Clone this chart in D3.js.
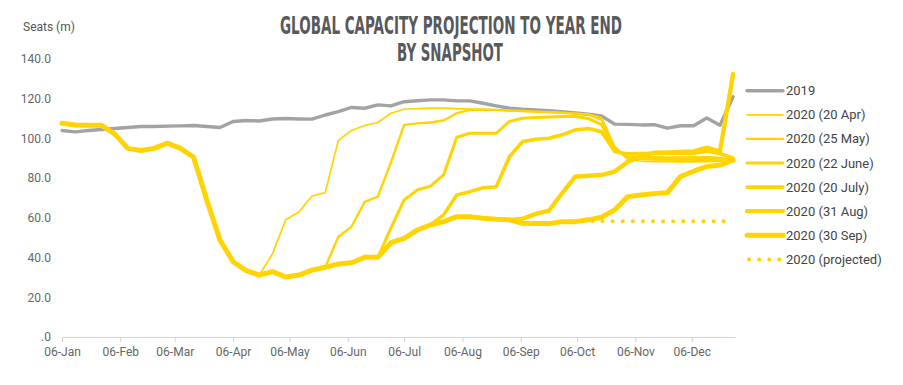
<!DOCTYPE html>
<html>
<head>
<meta charset="utf-8">
<script src="https://cdn.jsdelivr.net/npm/d3@7"></script>
<style>
  body { margin: 0; background: #fff; }
  text { font-family: Roboto, "Noto Sans", sans-serif; }
</style>
</head>
<body>
<script>
// weekly snapshots, one point per week starting Monday 06-Jan
var firstWeek = new Date(2020, 0, 6);
var weeks = d3.range(52).map(function(i) { return d3.timeDay.offset(firstWeek, 7 * i); });

var monthTicks = ["06-Jan", "06-Feb", "06-Mar", "06-Apr", "06-May", "06-Jun",
                  "06-Jul", "06-Aug", "06-Sep", "06-Oct", "06-Nov", "06-Dec"];
var yTicks = [0, 20, 40, 60, 80, 100, 120, 140];

var seats2019 = [104, 103.3, 104, 104.5, 105, 105.5, 106, 106, 106.2, 106.3,
  106.5, 106, 105.5, 108.5, 109, 108.8, 109.8, 110, 109.8, 109.7,
  111.8, 113.5, 115.6, 115.2, 116.9, 116.4, 118.5, 119, 119.4, 119.4,
  118.9, 118.9, 117.7, 116.4, 115.2, 114.7, 114.4, 114, 113.5, 112.8,
  112.2, 111.3, 107.2, 107.1, 106.8, 106.9, 105.2, 106.4, 106.4, 110.3,
  106.6, 121];

// actual 2020 up to the 30 Sep snapshot (week 0..38)
var actual2020 = [107.6, 106.8, 106.6, 106.6, 102.3, 95, 93.9, 95, 97.6, 95,
  90.5, 69, 48.9, 37.9, 33.4, 31.2, 32.9, 30.2, 31.2, 33.7,
  35.1, 36.8, 37.4, 40.1, 40.1, 47.5, 49.7, 53.9, 56.4, 58.1,
  60.6, 60.6, 59.8, 59.3, 59, 57.3, 57.1, 57.1, 58.1];

// forecast part of each snapshot, starting at the snapshot week
var apr20 = [31.2, 42, 59, 63, 71, 72.7, 99, 104, 106.5, 108, 112.7, 114.7, 115,
  115.3, 115.3, 115, 114.8, 114.5, 114.3, 114, 113.7, 113.4, 113.2, 112.9,
  112.6, 112.3, 110.5, 96, 89.5, 88.5, 88.3, 88.3, 88.2, 88.2, 88.3, 88.5, 89];
var may25 = [35.1, 50.5, 55.6, 68, 70.7, 88, 106.8, 107.6, 108, 109, 112.7, 114.4,
  114.6, 114.4, 114.1, 113.8, 113.5, 113.2, 112.9, 112.5, 112, 109.5, 95.5,
  90, 89.5, 89.4, 89.3, 89.2, 89.2, 89.3, 89.3, 89];
var jun22 = [40.1, 55, 69, 74, 76, 81.6, 100.6, 102.6, 102.6, 102.6, 108.6, 110.2,
  110.5, 110.8, 111, 111, 110, 107, 94.5, 90.5, 90.5, 90.4, 90.3, 90.3, 90.4,
  90.5, 90, 89];
var jul20 = [56.4, 61.5, 71.5, 73.2, 75.2, 75.7, 90.8, 98.4, 99.6, 100.1, 101.8,
  104.3, 105, 103.4, 93.4, 92.2, 92.4, 92.5, 92.5, 92.4, 92.6, 93.5, 92.4, 90];
var aug31 = [59, 59.5, 62, 63.6, 72.4, 80.8, 81.2, 81.6, 83.3, 88.3, 91, 92.8, 93,
  93.2, 93.5, 95.4, 93.4, 132.5];
var sep30 = [58.1, 58.1, 59, 60.3, 64, 70.7, 71.5, 72.2, 72.7, 80.8, 83.5, 85.8,
  86.6, 89];
var projected = [58.1, 58.3, 58.3, 58.3, 58.3, 58.3, 58.3, 58.3, 58.3, 58.3, 58.3,
  58.3, 58.3, 58.3];

var yellow = "#ffd400";
var grey = "#a3a3a3";

function fromWeek(start, values) {
  return values.map(function(v, i) { return {date: weeks[start + i], value: v}; });
}

var series = [
  {name: "2019", color: grey, width: 3.4, points: fromWeek(0, seats2019)},
  {name: "2020 (20 Apr)", color: yellow, width: 1.7, points: fromWeek(15, apr20)},
  {name: "2020 (25 May)", color: yellow, width: 2.4, points: fromWeek(20, may25)},
  {name: "2020 (22 June)", color: yellow, width: 3, points: fromWeek(24, jun22)},
  {name: "2020 (20 July)", color: yellow, width: 3.6, points: fromWeek(28, jul20)},
  {name: "2020 (31 Aug)", color: yellow, width: 4.3, points: fromWeek(34, aug31)},
  {name: "2020 (30 Sep)", color: yellow, width: 5,
    points: fromWeek(0, actual2020).concat(fromWeek(39, sep30.slice(1)))},
  {name: "2020 (projected)", color: yellow, width: 4, dotted: true, points: fromWeek(38, projected)}
];

var svg = d3.select("body").append("svg")
    .attr("width", 903)
    .attr("height", 385);

var x = d3.scaleTime()
    .domain([firstWeek, new Date(2020, 11, 29)])
    .range([62, 735]);

var y = d3.scaleLinear()
    .domain([0, 140])
    .range([337, 59]);

// title
svg.append("text")
    .attr("x", 451).attr("y", 34)
    .attr("text-anchor", "middle")
    .attr("textLength", 342).attr("lengthAdjust", "spacingAndGlyphs")
    .style("font-family", "'Liberation Sans Narrow', 'DejaVu Sans Condensed', sans-serif")
    .style("font-weight", "bold").style("font-size", "25px")
    .style("fill", "#58595b")
    .text("GLOBAL CAPACITY PROJECTION TO YEAR END");
svg.append("text")
    .attr("x", 450).attr("y", 61)
    .attr("text-anchor", "middle")
    .attr("textLength", 106).attr("lengthAdjust", "spacingAndGlyphs")
    .style("font-family", "'Liberation Sans Narrow', 'DejaVu Sans Condensed', sans-serif")
    .style("font-weight", "bold").style("font-size", "25px")
    .style("fill", "#58595b")
    .text("BY SNAPSHOT");

svg.append("text")
    .attr("x", 23).attr("y", 31)
    .style("font-size", "12px").style("fill", "#555")
    .text("Seats (m)");

// y axis, labels only
var yAxis = d3.axisLeft(y)
    .tickValues(yTicks)
    .tickSize(0)
    .tickPadding(0)
    .tickFormat(function(d) { return d === 0 ? ".0" : d3.format(".1f")(d); });

svg.append("g")
    .attr("class", "y axis")
    .attr("transform", "translate(51,0)")
    .call(yAxis)
    .call(function(g) { g.select(".domain").remove(); })
    .selectAll("text")
    .style("font-family", "Roboto, sans-serif")
    .style("font-size", "12px")
    .style("fill", "#666");

// x axis with monthly ticks on the 6th
var monthDates = monthTicks.map(function(m, i) { return new Date(2020, i, 6); });
var xAxis = d3.axisBottom(x)
    .tickValues(monthDates)
    .tickSize(5)
    .tickSizeOuter(0)
    .tickPadding(5)
    .tickFormat(function(d, i) { return monthTicks[i]; });

var xg = svg.append("g")
    .attr("class", "x axis")
    .attr("transform", "translate(0," + y(0) + ")")
    .call(xAxis);
xg.select(".domain").attr("stroke", "#d4d4d4");
xg.selectAll(".tick line").attr("stroke", "#d4d4d4");
xg.selectAll("text")
    .style("font-family", "Roboto, sans-serif")
    .style("font-size", "12px")
    .style("fill", "#666");

// lines
var line = d3.line()
    .x(function(d) { return x(d.date); })
    .y(function(d) { return y(d.value); });

svg.append("g")
    .selectAll("path")
    .data(series)
    .enter()
    .append("path")
    .attr("d", function(d) { return line(d.points); })
    .attr("fill", "none")
    .attr("stroke", function(d) { return d.color; })
    .attr("stroke-width", function(d) { return d.width; })
    .attr("stroke-linejoin", "round")
    .attr("stroke-linecap", "round")
    .attr("stroke-dasharray", function(d) { return d.dotted ? "0.1 10" : null; });

// legend
var legend = svg.append("g")
    .selectAll("g")
    .data(series)
    .enter()
    .append("g")
    .attr("transform", function(d, i) { return "translate(747," + (90.7 + i * 24.1) + ")"; });

legend.append("line")
    .attr("x1", function(d) { return d.dotted ? 2 : 0; })
    .attr("x2", 36)
    .attr("stroke", function(d) { return d.color; })
    .attr("stroke-width", function(d) { return d.width; })
    .attr("stroke-linecap", "round")
    .attr("stroke-dasharray", function(d) { return d.dotted ? "0.1 10" : null; });

legend.append("text")
    .attr("x", 39)
    .attr("dy", "0.35em")
    .style("font-size", "13px")
    .style("fill", "#444")
    .text(function(d) { return d.name; });
</script>
</body>
</html>
